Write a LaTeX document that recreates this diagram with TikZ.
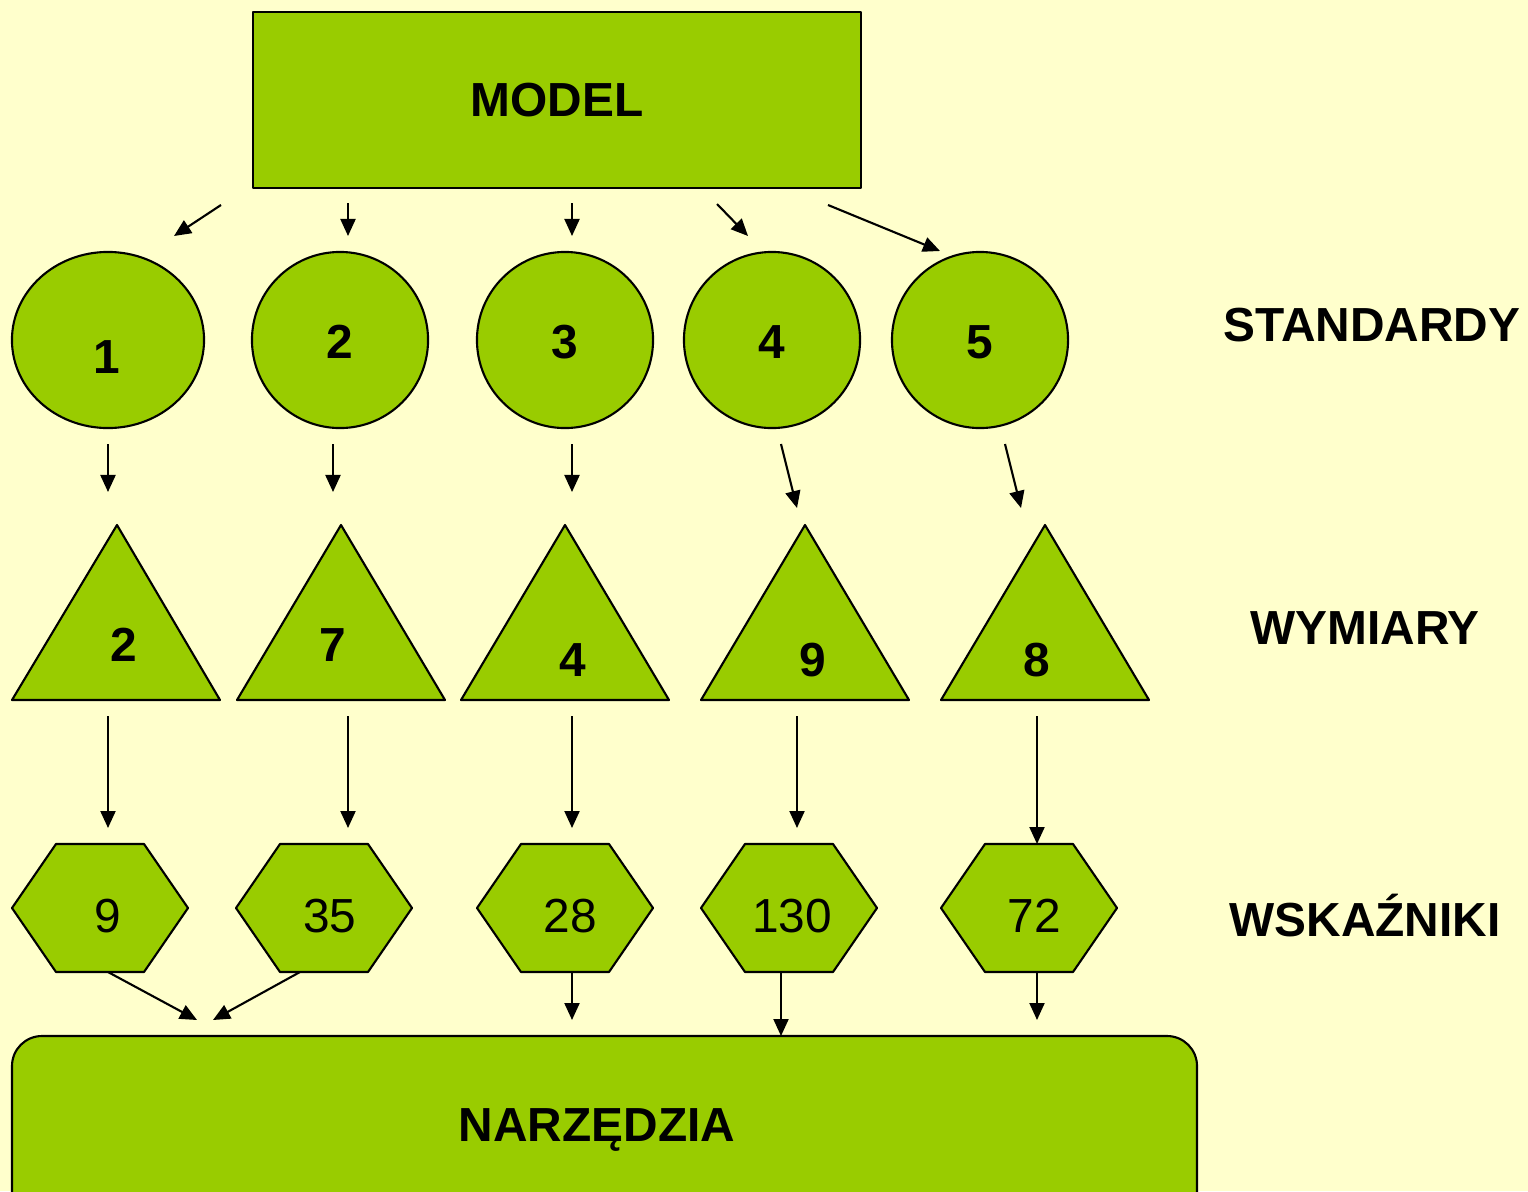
\documentclass[tikz,border=0pt]{standalone}
\usepackage{fontspec}
\setmainfont{Liberation Sans}
\usetikzlibrary{arrows.meta,shapes.geometric}
\definecolor{tlo}{HTML}{FFFFCC}
\definecolor{ziel}{HTML}{99CC00}
\begin{document}
\begin{tikzpicture}[x=0.01cm,y=-0.01cm,>={Triangle[length=0.17cm,width=0.15cm]},
    line join=round, font=\fontsize{13.6}{16}\selectfont,
    ksztalt/.style={draw=black,fill=ziel,line width=0.6pt},
    gruby/.style={font=\fontsize{13.6}{16}\selectfont\bfseries},
    strz/.style={->,line width=0.6pt}]
    % tlo i obciecie
    \fill[tlo] (0,0) rectangle (1528,1191);
    \clip (0,0) rectangle (1528,1191);
    % model
    \node[ksztalt,rectangle,minimum width=6.08cm,minimum height=1.76cm,gruby] (model) at (557,100) {MODEL};
    % standardy: kola
    \node[ksztalt,ellipse,inner sep=0pt,minimum width=1.92cm,minimum height=1.76cm] (st1) at (108,340) {};
    \foreach \i/\x in {2/340,3/565,4/772,5/980}
        \node[ksztalt,ellipse,inner sep=0pt,minimum width=1.76cm,minimum height=1.76cm] (st\i) at (\x,340) {};
    \foreach \i/\x/\y in {1/107/357,2/340/342,3/565/342,4/772/342,5/980/342}
        \node[gruby] (tst\i) at (\x,\y) {\i};
    % wymiary: trojkaty
    \foreach \i/\xl/\xa in {1/12/117,2/237/341,3/461/565,4/701/805,5/941/1045}
        \draw[ksztalt] (\xl,700) -- ++(208,0) -- (\xa,525) -- cycle;
    \foreach \i/\t/\x/\y in {1/2/124/645,2/7/333/645,3/4/573/660,4/9/813/660,5/8/1037/660}
        \node[gruby] (twy\i) at (\x,\y) {\t};
    % wskazniki: szesciokaty
    \foreach \cx in {100,324,565,789,1029}
        \draw[ksztalt] (\cx-88,908) -- (\cx-44,844) -- (\cx+44,844) -- (\cx+88,908)
            -- (\cx+44,972) -- (\cx-44,972) -- cycle;
    \foreach \i/\t/\x in {1/9/108,2/35/330,3/28/570,4/130/792,5/72/1034}
        \node (tws\i) at (\x,916) {\t};
    % narzedzia
    \draw[ksztalt,rounded corners=0.3cm] (12,1036) rectangle (1197,1230);
    \node[gruby] (narz) at (597,1130) {NARZĘDZIA};
    % opisy poziomow
    \node[gruby] (standardy) at (1372,325) {STANDARDY};
    \node[gruby] (wymiary) at (1365,628) {WYMIARY};
    \node[gruby] (wskazniki) at (1365,916) {WSKAŹNIKI};
    % strzalki
    \foreach \n/\xp/\yp/\xk/\yk in {
        a1/221/205/174/236, a2/348/203/348/236, a3/572/203/572/236,
        a4/717/204/748/236, a5/828/205/940/251,
        b1/108/444/108/492, b2/333/444/333/492, b3/572/444/572/492,
        b4/781/444/797/508, b5/1005/444/1021/508,
        c1/108/716/108/828, c2/348/716/348/828, c3/572/716/572/828,
        c4/797/716/797/828, c5/1037/716/1037/844,
        d1/108/972/197/1020, d2/300/972/213/1020, d3/572/972/572/1020,
        d4/781/972/781/1036, d5/1037/972/1037/1020}
    {
        \coordinate (p\n) at (\xp,\yp);
        \coordinate (k\n) at (\xk,\yk);
        \draw[strz] (p\n) -- (k\n);
    }
\end{tikzpicture}
\end{document}
